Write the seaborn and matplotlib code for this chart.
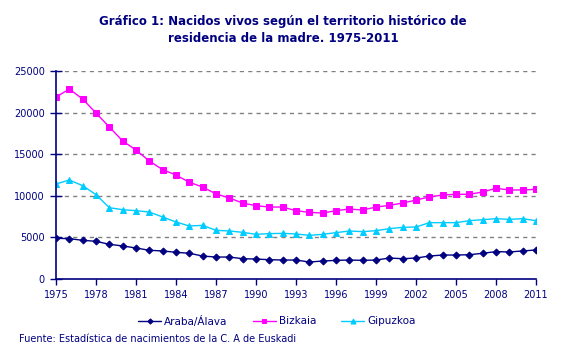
import matplotlib
matplotlib.use("Agg")
import matplotlib.pyplot as plt
import seaborn as sns
import pandas as pd

years = list(range(1975, 2012))
araba = [4890, 4850, 4650, 4530, 4170, 3970, 3730, 3450, 3370, 3210, 3090, 2760, 2640,
         2640, 2440, 2400, 2320, 2280, 2280, 2040, 2160, 2240, 2280, 2240, 2280,
         2520, 2440, 2520, 2760, 2880, 2880, 2920, 3090, 3290, 3250, 3370, 3490]
bizkaia = [21870, 22830, 21630, 19950, 18270, 16590, 15500, 14180, 13140, 12500, 11620, 11060, 10220,
           9740, 9130, 8810, 8650, 8650, 8210, 8010, 7930, 8210, 8410, 8290, 8650,
           8850, 9130, 9490, 9860, 10100, 10180, 10180, 10460, 10900, 10700, 10700, 10780]
gipuzkoa = [11420, 11900, 11220, 10140, 8570, 8330, 8210, 8050, 7450, 6850, 6370, 6450, 5850,
            5770, 5610, 5370, 5450, 5490, 5410, 5250, 5370, 5570, 5770, 5690, 5810,
            6050, 6210, 6250, 6770, 6770, 6770, 7010, 7130, 7250, 7170, 7250, 7010]
series_names = ["Araba/Álava", "Bizkaia", "Gipuzkoa"]
x_tick_labels = list(range(1975, 2012, 3))
y_ticks = [0, 5000, 10000, 15000, 20000, 25000]

navy = "#000080"
colors = {"Araba/Álava": navy, "Bizkaia": "#FF00FF", "Gipuzkoa": "#00CCFF"}
markers = {"Araba/Álava": "D", "Bizkaia": "s", "Gipuzkoa": "^"}
msizes = {"Araba/Álava": 3.5, "Bizkaia": 4, "Gipuzkoa": 4.8}

df = pd.DataFrame({
    "year": years * 3,
    "value": araba + bizkaia + gipuzkoa,
    "serie": [series_names[0]] * len(years) + [series_names[1]] * len(years) + [series_names[2]] * len(years),
})

sns.set_style("white")
plt.rcParams["font.family"] = ["DejaVu Sans"]

fig = plt.figure(figsize=(5.66, 3.56), dpi=100)
ax = fig.add_axes([56 / 566, 1 - 279 / 356, (536 - 56) / 566, (279 - 71) / 356])

for name in series_names:
    sub = df[df["serie"] == name]
    sns.lineplot(data=sub, x="year", y="value", ax=ax, color=colors[name],
                 marker=markers[name], markersize=msizes[name], markeredgecolor=colors[name],
                 linewidth=1.0, label=name, legend=False)

ax.set_xlim(1975, 2011)
ax.set_ylim(0, 25000)
ax.set_xticks(years, minor=True)
ax.set_xticks(x_tick_labels)
ax.set_xticklabels([str(y) for y in x_tick_labels])
ax.set_yticks(y_ticks)
ax.set_yticklabels([str(v) for v in y_ticks])
ax.tick_params(axis="x", which="both", direction="out", length=4, width=1, color=navy,
               labelcolor=navy, labelsize=7, pad=4)
ax.tick_params(axis="y", which="both", direction="inout", length=8, width=1, color=navy,
               labelcolor=navy, labelsize=7, pad=4)
ax.tick_params(left=True, bottom=True)
ax.set_xlabel("")
ax.set_ylabel("")

for v in y_ticks[1:]:
    ax.axhline(v, color="#808080", linestyle=(0, (3, 3)), linewidth=1, zorder=0)

for side in ["top", "right"]:
    ax.spines[side].set_visible(False)
for side in ["left", "bottom"]:
    ax.spines[side].set_color(navy)
    ax.spines[side].set_linewidth(1.2)

fig.text(283 / 566, 1 - 21 / 356, "Gráfico 1: Nacidos vivos según el territorio histórico de",
         ha="center", va="center", fontsize=8.5, fontweight="bold", color=navy)
fig.text(283 / 566, 1 - 38 / 356, "residencia de la madre. 1975-2011",
         ha="center", va="center", fontsize=8.5, fontweight="bold", color=navy)

handles, labels = ax.get_legend_handles_labels()
leg = fig.legend(handles, labels, loc="center", bbox_to_anchor=(277 / 566, 1 - 321 / 356),
                 ncol=3, frameon=False, fontsize=7.5, handlelength=2.2, handletextpad=0.3,
                 columnspacing=2.4, markerscale=0.75)
for t in leg.get_texts():
    t.set_color(navy)

fig.text(19 / 566, 1 - 339 / 356, "Fuente: Estadística de nacimientos de la C. A de Euskadi",
         ha="left", va="center", fontsize=7, color=navy)

fig.savefig("out.png", dpi=100)
